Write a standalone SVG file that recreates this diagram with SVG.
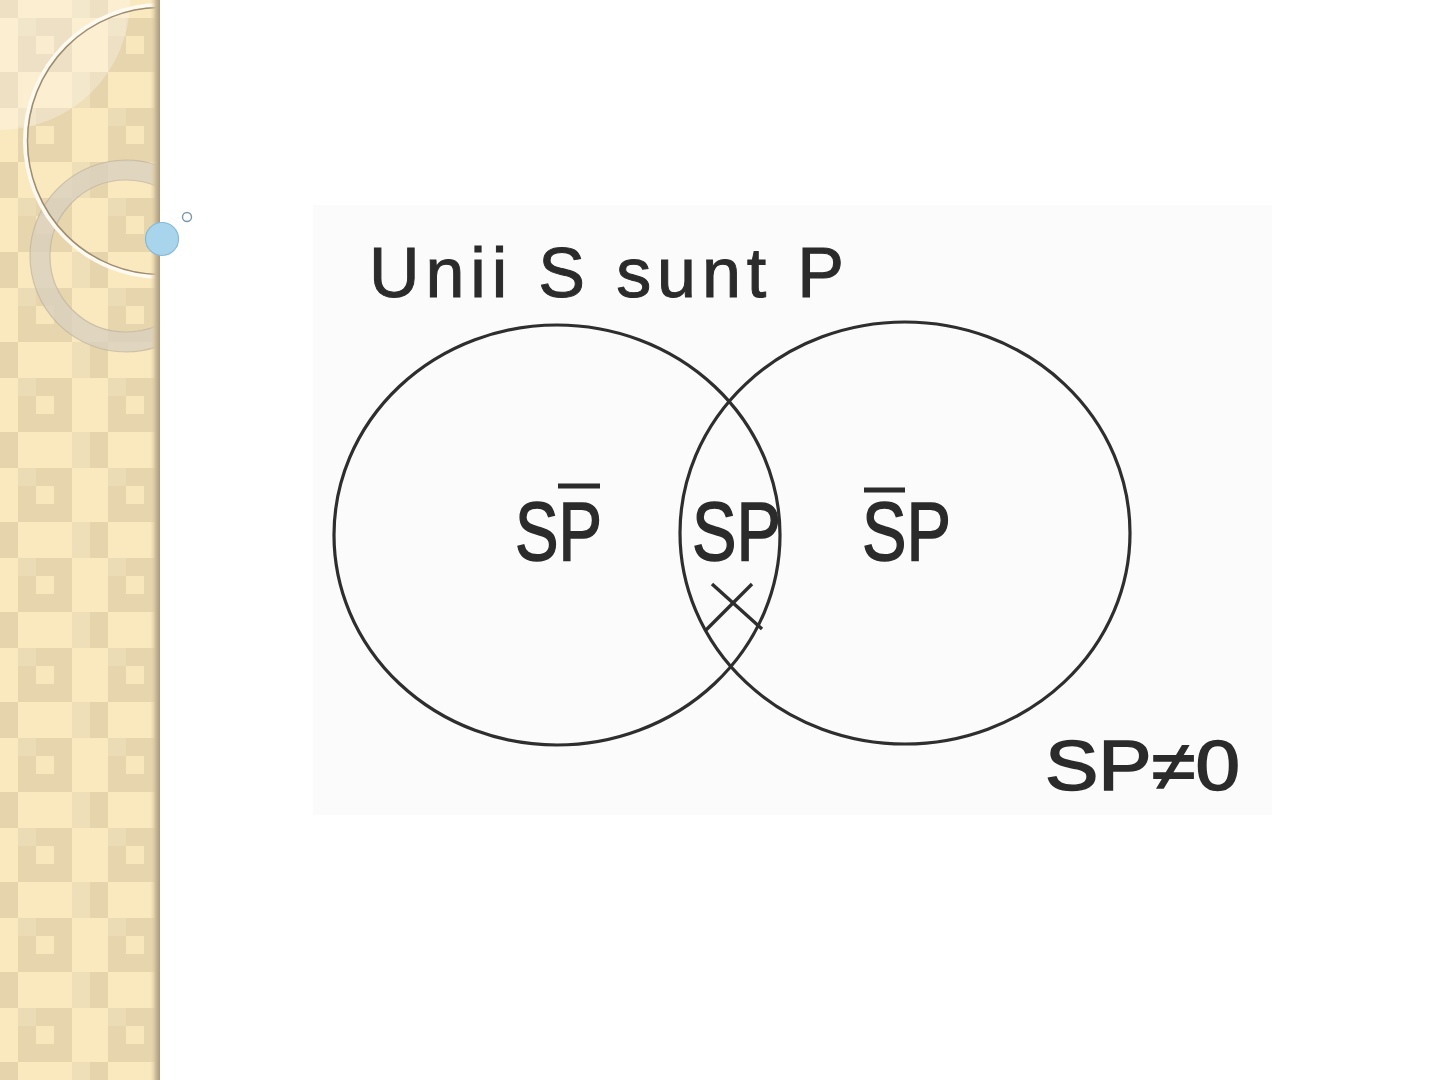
<svg xmlns="http://www.w3.org/2000/svg" width="1440" height="1080" viewBox="0 0 1440 1080">
  <defs>
    <pattern id="chk" x="18" y="18" width="90" height="90" patternUnits="userSpaceOnUse">
      <rect x="0" y="0" width="90" height="90" fill="#fae8bf"/>
      <rect x="0" y="0" width="54" height="54" fill="#e7d5ad"/>
      <rect x="0" y="0" width="18" height="18" fill="#ecdcb6"/>
      <rect x="18" y="18" width="18" height="18" fill="#f8e6bd"/>
      <rect x="54" y="54" width="18" height="36" fill="#efdfb8"/>
      <rect x="72" y="54" width="18" height="36" fill="#e6d4ac"/>
    </pattern>
    <linearGradient id="edge" x1="0" y1="0" x2="1" y2="0">
      <stop offset="0" stop-color="#e8d6ae" stop-opacity="0"/>
      <stop offset="0.6" stop-color="#c9b894"/>
      <stop offset="1" stop-color="#a89a80"/>
    </linearGradient>
    <clipPath id="side"><rect x="0" y="0" width="158" height="1080"/></clipPath>
  </defs>
  <style>
    .ring { fill: none; stroke: #2e2e2e; stroke-width: 3.2; }
    .lbl { font-family: "Liberation Sans", Arial, sans-serif; fill: #2b2b2b; stroke: #2b2b2b; stroke-width: 1.6; }
    .ttl { stroke-width: 1; }
    .bar { stroke: #2b2b2b; stroke-width: 5; }
  </style>

  <rect width="1440" height="1080" fill="#ffffff"/>

  <!-- sidebar -->
  <g id="sidebar">
    <rect x="0" y="0" width="158" height="1080" fill="url(#chk)"/>
    <g clip-path="url(#side)">
      <circle cx="0" cy="0" r="130" fill="#ffffff" fill-opacity="0.28"/>
      <circle cx="126" cy="256" r="86" fill="none" stroke="#d9d0be" stroke-opacity="0.8" stroke-width="20"/>
      <circle cx="126" cy="256" r="96" fill="none" stroke="#b9ae99" stroke-opacity="0.6" stroke-width="1.2"/>
      <circle cx="126" cy="256" r="76" fill="none" stroke="#b9ae99" stroke-opacity="0.6" stroke-width="1.2"/>
      <circle cx="161" cy="141" r="136" fill="none" stroke="#fffaf0" stroke-width="4"/>
      <circle cx="161" cy="141" r="133.5" fill="none" stroke="#9c8c70" stroke-width="1.5"/>
    </g>
    <rect x="150" y="0" width="10" height="1080" fill="url(#edge)"/>
    <circle cx="162" cy="239" r="16.5" fill="#a9d5ec" stroke="#86b9d6" stroke-width="1.2"/>
    <circle cx="187" cy="217" r="4.5" fill="#ffffff" stroke="#7d98a6" stroke-width="1.4"/>
  </g>

  <!-- image area -->
  <rect x="313" y="205" width="959" height="610" fill="#fbfbfb"/>

  <g id="title">
    <text class="lbl ttl" x="369" y="297" font-size="70" textLength="475" lengthAdjust="spacing">Unii S sunt P</text>
  </g>

  <g id="circle-S">
    <ellipse class="ring" cx="557" cy="535" rx="223" ry="210"/>
  </g>
  <g id="circle-P">
    <ellipse class="ring" cx="905" cy="533" rx="225" ry="211"/>
  </g>

  <g id="label-SPbar">
    <text class="lbl" x="515" y="560" font-size="84" textLength="87" lengthAdjust="spacingAndGlyphs">SP</text>
    <line class="bar" x1="558" y1="486" x2="600" y2="486"/>
  </g>
  <g id="label-SP">
    <text class="lbl" x="692" y="560" font-size="84" textLength="89" lengthAdjust="spacingAndGlyphs">SP</text>
  </g>
  <g id="label-SbarP">
    <text class="lbl" x="862" y="560" font-size="84" textLength="89" lengthAdjust="spacingAndGlyphs">SP</text>
    <line class="bar" x1="864" y1="490" x2="905" y2="490"/>
  </g>

  <g id="cross">
    <line x1="712" y1="584" x2="762" y2="629" stroke="#2e2e2e" stroke-width="3.4"/>
    <line x1="752" y1="584" x2="705" y2="631" stroke="#2e2e2e" stroke-width="3.4"/>
  </g>

  <g id="label-result">
    <text class="lbl" x="1045" y="790" font-size="70" textLength="195" lengthAdjust="spacingAndGlyphs">SP≠0</text>
  </g>
</svg>
